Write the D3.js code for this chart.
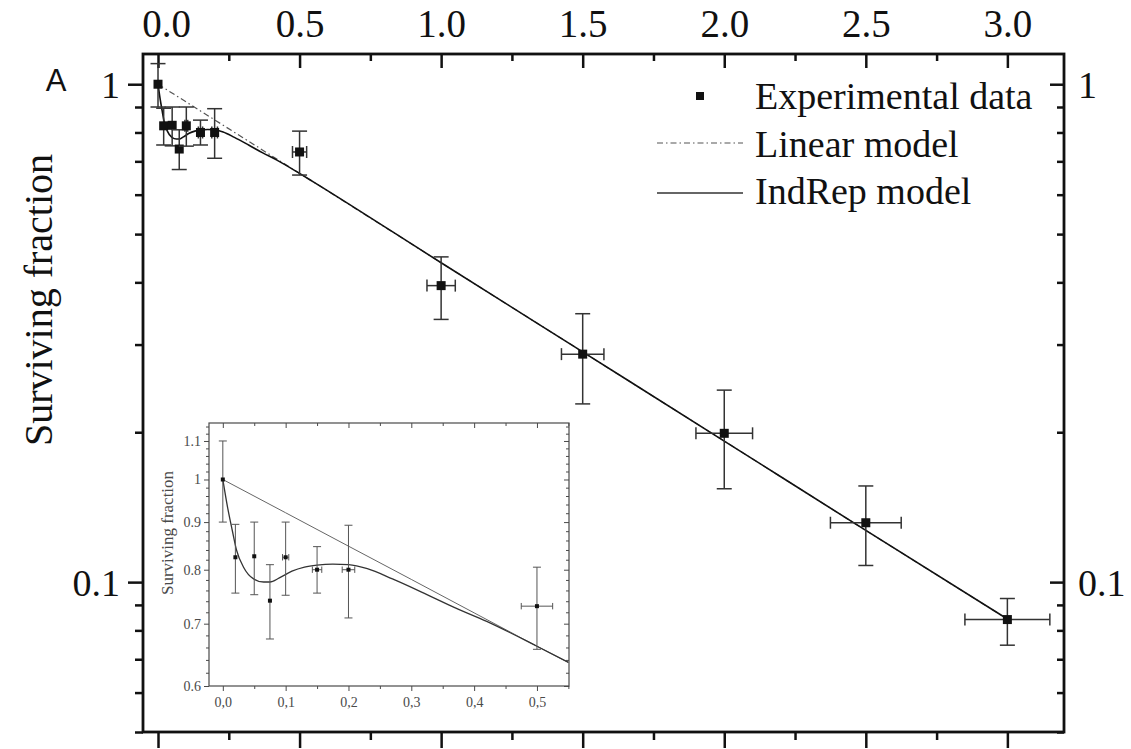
<!DOCTYPE html>
<html lang="en">
<head>
<meta charset="UTF-8">
<title>Surviving fraction</title>
<script src="https://d3js.org/d3.v7.min.js"></script>
<style>
  body { margin: 0; background: #fff; }
  svg { display: block; }
  text { font-family: "Liberation Serif", "DejaVu Serif", serif; fill: #111; }
  .domain { display: none; }
</style>
</head>
<body>
<div id="chart"></div>
<script>
const width = 1131, height = 749;

// measured points (dose in Gy)
const doses   = [0, 0.02, 0.05, 0.075, 0.1, 0.15, 0.2, 0.5, 1.0, 1.5, 2.0, 2.5, 3.0];
const surv    = [1.0, 0.825, 0.827, 0.741, 0.825, 0.80, 0.80, 0.731, 0.394, 0.287, 0.199, 0.1316, 0.0841];
const survLo  = [0.9, 0.755, 0.752, 0.674, 0.751, 0.755, 0.710, 0.657, 0.337, 0.228, 0.154, 0.108, 0.0747];
const survHi  = [1.1, 0.895, 0.90, 0.810, 0.90, 0.847, 0.893, 0.805, 0.45, 0.346, 0.243, 0.156, 0.0927];
const doseErr = [0, 0, 0, 0, 0.005, 0.0075, 0.01, 0.025, 0.05, 0.075, 0.1, 0.125, 0.15];

// model curves
const linDose = [0, 0.1, 0.2, 0.3, 0.4, 0.5, 0.55, 1.0, 1.5, 2.0, 2.5, 3.0];
const linSurv = [1.0, 0.921, 0.848, 0.781, 0.719, 0.662, 0.636, 0.438, 0.290, 0.192, 0.127, 0.0843];
const repDose = [0, 0.0075, 0.015, 0.022, 0.033, 0.049, 0.065, 0.075, 0.09, 0.11, 0.13, 0.15, 0.175, 0.2, 0.23, 0.27, 0.32, 0.37, 0.42, 0.5, 0.55, 1.0, 1.5, 2.0, 2.5, 3.0];
const repSurv = [1.0, 0.934, 0.882, 0.839, 0.805, 0.782, 0.776, 0.776, 0.784, 0.797, 0.805, 0.809, 0.811, 0.810, 0.802, 0.782, 0.755, 0.728, 0.704, 0.662, 0.636, 0.438, 0.290, 0.192, 0.127, 0.0843];

const xMajor = [0, 0.5, 1, 1.5, 2, 2.5, 3];
const xMinor = [0.25, 0.75, 1.25, 1.75, 2.25, 2.75];
const yMajor = [0.1, 1];
const yMinor = [0.05, 0.06, 0.07, 0.08, 0.09, 0.2, 0.3, 0.4, 0.5, 0.6, 0.7, 0.8, 0.9];

const insetXMajor = [0, 0.1, 0.2, 0.3, 0.4, 0.5];
const insetXMinor = [0.05, 0.15, 0.25, 0.35, 0.45, 0.55];
const insetYMajor = [0.6, 0.7, 0.8, 0.9, 1.0, 1.1];
const insetYMinor = d3.range(0.62, 1.15, 0.02).filter(v => Math.abs(v * 10 - Math.round(v * 10)) > 0.01);

const legendLabels = ["Experimental data", "Linear model", "IndRep model"];

const points = doses.map((d, i) => ({x: d, y: surv[i], lo: survLo[i], hi: survHi[i], ex: doseErr[i]}));
const linPts = linDose.map((d, i) => [d, linSurv[i]]);
const repPts = repDose.map((d, i) => [d, repSurv[i]]);

const svg = d3.select("#chart").append("svg")
    .attr("width", width).attr("height", height);

// ---------- main plot ----------
const L = 143, R = 1064, T = 54, B = 732;
const x = d3.scaleLinear().domain([-0.053, 3.2]).range([L, R]);
const y = d3.scaleLog().domain([0.05, 1.15]).range([B, T]);

function styleTicks(g, w) {
    g.selectAll(".tick line").attr("stroke", "#111").attr("stroke-width", w);
}

// top axis: ticks pointing in, labels above
svg.append("g").attr("transform", `translate(0,${T})`)
    .call(d3.axisTop(x).tickValues(xMajor).tickSize(-14).tickPadding(17).tickFormat(d3.format(".1f")))
    .call(g => styleTicks(g, 2.5))
    .selectAll("text").attr("font-size", 39)
    .attr("dx", d => d === 0 ? 8 : 0);
svg.append("g").attr("transform", `translate(0,${T})`)
    .call(d3.axisTop(x).tickValues(xMinor).tickSize(-7).tickFormat(""))
    .call(g => styleTicks(g, 2.5));

// bottom axis: ticks pointing out
svg.append("g").attr("transform", `translate(0,${B})`)
    .call(d3.axisBottom(x).tickValues(xMajor).tickSize(16).tickFormat(""))
    .call(g => styleTicks(g, 2.5));
svg.append("g").attr("transform", `translate(0,${B})`)
    .call(d3.axisBottom(x).tickValues(xMinor).tickSize(8).tickFormat(""))
    .call(g => styleTicks(g, 2.5));

// left axis: ticks out
svg.append("g").attr("transform", `translate(${L},0)`)
    .call(d3.axisLeft(y).tickValues(yMajor).tickSize(15).tickPadding(8).tickFormat(d => d === 1 ? "1" : "0.1"))
    .call(g => styleTicks(g, 2.5))
    .selectAll("text").attr("font-size", 38).attr("dy", "0.34em");
svg.append("g").attr("transform", `translate(${L},0)`)
    .call(d3.axisLeft(y).tickValues(yMinor).tickSize(8).tickFormat(""))
    .call(g => styleTicks(g, 2.5));

// right axis: ticks in
svg.append("g").attr("transform", `translate(${R},0)`)
    .call(d3.axisRight(y).tickValues(yMajor).tickSize(-14).tickPadding(14).tickFormat(d => d === 1 ? "1" : "0.1"))
    .call(g => styleTicks(g, 2.5))
    .selectAll("text").attr("font-size", 38).attr("dy", "0.34em");
svg.append("g").attr("transform", `translate(${R},0)`)
    .call(d3.axisRight(y).tickValues(yMinor).tickSize(-7).tickFormat(""))
    .call(g => styleTicks(g, 2.5));

svg.append("rect")
    .attr("x", L).attr("y", T).attr("width", R - L).attr("height", B - T)
    .attr("fill", "none").attr("stroke", "#111").attr("stroke-width", 2.8);

// model lines
svg.append("path").datum(linPts)
    .attr("fill", "none").attr("stroke", "#555").attr("stroke-width", 1.2)
    .attr("stroke-dasharray", "6,3,1.5,3")
    .attr("d", d3.line().x(d => x(d[0])).y(d => y(d[1])));
svg.append("path").datum(repPts)
    .attr("fill", "none").attr("stroke", "#111").attr("stroke-width", 1.6)
    .attr("d", d3.line().x(d => x(d[0])).y(d => y(d[1])).curve(d3.curveMonotoneX));

// error bars + markers
function drawPoints(g, xs, ys, cap, size, col, w) {
    const pg = g.selectAll("g.pt").data(points.filter(p => xs.domain()[1] >= p.x)).join("g").attr("class", "pt");
    pg.append("line")
        .attr("x1", d => xs(d.x)).attr("x2", d => xs(d.x))
        .attr("y1", d => ys(d.lo)).attr("y2", d => ys(d.hi));
    pg.append("line")
        .attr("x1", d => xs(d.x) - cap / 2).attr("x2", d => xs(d.x) + cap / 2)
        .attr("y1", d => ys(d.lo)).attr("y2", d => ys(d.lo));
    pg.append("line")
        .attr("x1", d => xs(d.x) - cap / 2).attr("x2", d => xs(d.x) + cap / 2)
        .attr("y1", d => ys(d.hi)).attr("y2", d => ys(d.hi));
    const hx = pg.filter(d => d.ex > 0);
    hx.append("line")
        .attr("x1", d => xs(d.x - d.ex)).attr("x2", d => xs(d.x + d.ex))
        .attr("y1", d => ys(d.y)).attr("y2", d => ys(d.y));
    hx.append("line")
        .attr("x1", d => xs(d.x - d.ex)).attr("x2", d => xs(d.x - d.ex))
        .attr("y1", d => ys(d.y) - cap * 0.4).attr("y2", d => ys(d.y) + cap * 0.4);
    hx.append("line")
        .attr("x1", d => xs(d.x + d.ex)).attr("x2", d => xs(d.x + d.ex))
        .attr("y1", d => ys(d.y) - cap * 0.4).attr("y2", d => ys(d.y) + cap * 0.4);
    pg.selectAll("line").attr("stroke", col).attr("stroke-width", w);
    pg.append("rect")
        .attr("x", d => xs(d.x) - size / 2).attr("y", d => ys(d.y) - size / 2)
        .attr("width", size).attr("height", size).attr("fill", "#111");
}
drawPoints(svg.append("g"), x, y, 15, 9, "#333", 1.5);

// legend
const lg = svg.append("g");
lg.append("rect").attr("x", 696).attr("y", 92).attr("width", 8).attr("height", 8).attr("fill", "#111");
lg.append("line").attr("x1", 657).attr("x2", 743).attr("y1", 143).attr("y2", 143)
    .attr("stroke", "#555").attr("stroke-width", 1.2).attr("stroke-dasharray", "6,3,1.5,3");
lg.append("line").attr("x1", 657).attr("x2", 743).attr("y1", 193).attr("y2", 193)
    .attr("stroke", "#333").attr("stroke-width", 1.4);
lg.selectAll("text").data(legendLabels).join("text")
    .attr("x", 755).attr("y", (d, i) => 109 + i * 47.5)
    .attr("font-size", 38).text(d => d);

// titles
svg.append("text")
    .attr("transform", "translate(52,300) rotate(-90)")
    .attr("text-anchor", "middle").attr("font-size", 40)
    .text("Surviving fraction");
svg.append("text")
    .attr("x", 56).attr("y", 91).attr("text-anchor", "middle")
    .style("font-family", "'Liberation Sans', Arial, sans-serif")
    .attr("font-size", 31).text("A");

// ---------- inset ----------
const iL = 209, iR = 569, iT = 423, iB = 686;
const xi = d3.scaleLinear().domain([-0.022, 0.551]).range([iL, iR]);
const yi = d3.scaleLog().domain([0.6, 1.15]).range([iB, iT]);
const ink = "#4a4a4a";

const inset = svg.append("g");
inset.append("rect").attr("x", iL).attr("y", iT).attr("width", iR - iL).attr("height", iB - iT)
    .attr("fill", "#fff");

function insetTicks(g) {
    g.selectAll(".tick line").attr("stroke", ink).attr("stroke-width", 1);
    g.selectAll("text").attr("font-size", 14).style("fill", ink);
}
const fmtComma = d => d3.format(".1f")(d).replace(".", ",");
inset.append("g").attr("transform", `translate(0,${iB})`)
    .call(d3.axisBottom(xi).tickValues(insetXMajor).tickSize(5).tickPadding(6).tickFormat(fmtComma)).call(insetTicks);
inset.append("g").attr("transform", `translate(0,${iB})`)
    .call(d3.axisBottom(xi).tickValues(insetXMinor).tickSize(3).tickFormat("")).call(insetTicks);
inset.append("g").attr("transform", `translate(0,${iT})`)
    .call(d3.axisTop(xi).tickValues(insetXMajor).tickSize(-5).tickFormat("")).call(insetTicks);
inset.append("g").attr("transform", `translate(0,${iT})`)
    .call(d3.axisTop(xi).tickValues(insetXMinor).tickSize(-3).tickFormat("")).call(insetTicks);
inset.append("g").attr("transform", `translate(${iL},0)`)
    .call(d3.axisLeft(yi).tickValues(insetYMajor).tickSize(5).tickPadding(3)
        .tickFormat(d => d === 1 ? "1" : d3.format(".1f")(d))).call(insetTicks);
inset.append("g").attr("transform", `translate(${iL},0)`)
    .call(d3.axisLeft(yi).tickValues(insetYMinor).tickSize(3).tickFormat("")).call(insetTicks);
inset.append("g").attr("transform", `translate(${iR},0)`)
    .call(d3.axisRight(yi).tickValues(insetYMajor).tickSize(-5).tickFormat("")).call(insetTicks);
inset.append("g").attr("transform", `translate(${iR},0)`)
    .call(d3.axisRight(yi).tickValues(insetYMinor).tickSize(-3).tickFormat("")).call(insetTicks);

svg.append("defs").append("clipPath").attr("id", "insetClip")
    .append("rect").attr("x", iL).attr("y", iT).attr("width", iR - iL).attr("height", iB - iT);

const inner = inset.append("g").attr("clip-path", "url(#insetClip)");
inner.append("path").datum(linPts.filter(d => d[0] <= 0.6))
    .attr("fill", "none").attr("stroke", "#666").attr("stroke-width", 1)
    .attr("d", d3.line().x(d => xi(d[0])).y(d => yi(d[1])));
inner.append("path").datum(repPts.filter(d => d[0] <= 0.6))
    .attr("fill", "none").attr("stroke", "#333").attr("stroke-width", 1.3)
    .attr("d", d3.line().x(d => xi(d[0])).y(d => yi(d[1])).curve(d3.curveMonotoneX));
drawPoints(inner.append("g"), xi, yi, 8, 4, "#555", 1);

inset.append("rect").attr("x", iL).attr("y", iT).attr("width", iR - iL).attr("height", iB - iT)
    .attr("fill", "none").attr("stroke", ink).attr("stroke-width", 1.2);

inset.append("text")
    .attr("transform", `translate(173,533) rotate(-90)`)
    .attr("text-anchor", "middle").attr("font-size", 17).style("fill", ink)
    .text("Surviving fraction");
</script>
</body>
</html>
